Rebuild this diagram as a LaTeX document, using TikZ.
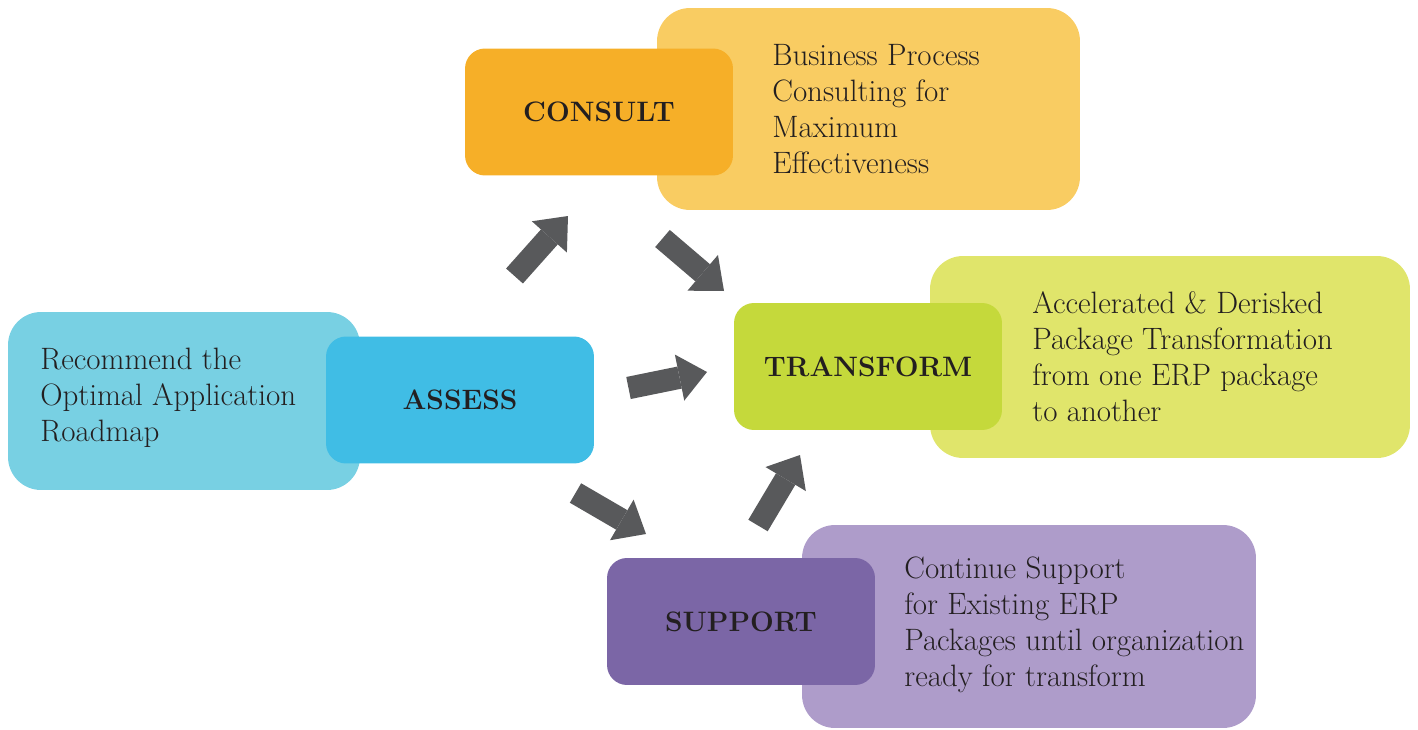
\documentclass[tikz,border=0pt]{standalone}
\usepackage{fontspec}
\usepackage{tikz}
\usetikzlibrary{arrows.meta}
\definecolor{consultdark}{HTML}{F6AF28}
\definecolor{consultlight}{HTML}{F9CC62}
\definecolor{assessdark}{HTML}{40BDE5}
\definecolor{assesslight}{HTML}{78D0E3}
\definecolor{transformdark}{HTML}{C5D93B}
\definecolor{transformlight}{HTML}{E0E56B}
\definecolor{supportdark}{HTML}{7B66A6}
\definecolor{supportlight}{HTML}{AE9CCA}
\definecolor{arrowgray}{HTML}{58595B}
\definecolor{inkcol}{HTML}{231F20}

\begin{document}
\begin{tikzpicture}[
    x=0.02cm, y=-0.02cm,
    big box/.style={rounded corners=0.66cm, inner sep=0pt, minimum height=4.04cm},
    small box/.style={rounded corners=0.4cm, inner sep=0pt, minimum width=5.36cm, minimum height=2.54cm,
        text=inkcol, font=\fontsize{16}{19}\selectfont\bfseries},
    desc/.style={anchor=west, align=left, inner sep=0pt, text=inkcol, font=\fontsize{17.6}{20.5}\selectfont},
    block arrow/.style={draw=arrowgray, line width=0.45cm,
        -{Triangle[width=0.94cm, length=0.56cm, line width=0pt]}},
    every node/.style={color=black}
    ]
    \useasboundingbox (0,0) rectangle (1418,730);

    % background boxes
    \node[big box, fill=consultlight, minimum width=8.46cm] (consultbg) at (868.5,109) {};
    \node[big box, fill=assesslight, minimum width=7.04cm, minimum height=3.56cm] (assessbg) at (184,401) {};
    \node[big box, fill=transformlight, minimum width=9.6cm] (transformbg) at (1170,357) {};
    \node[big box, fill=supportlight, minimum width=9.08cm, minimum height=4.06cm] (supportbg) at (1029,626.5) {};

    % labels
    \node[small box, fill=consultdark] (consult) at (599,112) {CONSULT};
    \node[small box, fill=assessdark] (assess) at (460,400) {ASSESS};
    \node[small box, fill=transformdark] (transform) at (868,366.5) {TRANSFORM};
    \node[small box, fill=supportdark] (support) at (741,621.5) {SUPPORT};

    % descriptions
    \node[desc] (consulttxt) at (772,109) {Business Process\\Consulting for\\Maximum\\Effectiveness};
    \node[desc] (assesstxt) at (40,398) {Recommend the\\Optimal Application\\Roadmap};
    \node[desc] (transformtxt) at (1032,357) {Accelerated \& Derisked\\Package Transformation\\from one ERP package\\to another};
    \node[desc] (supporttxt) at (904,625) {Continue Support\\for Existing ERP\\Packages until organization\\ready for transform};

    % arrows
    \coordinate (ac0) at (514.5,276);
    \coordinate (ac1) at (568,216);
    \coordinate (ct0) at (662.5,238.5);
    \coordinate (ct1) at (724,291);
    \coordinate (at0) at (628.5,388);
    \coordinate (at1) at (707,372);
    \coordinate (as0) at (575.5,493);
    \coordinate (as1) at (646,534);
    \coordinate (st0) at (758,525.5);
    \coordinate (st1) at (800,455);
    \draw[block arrow] (ac0) -- (ac1);
    \draw[block arrow] (ct0) -- (ct1);
    \draw[block arrow] (at0) -- (at1);
    \draw[block arrow] (as0) -- (as1);
    \draw[block arrow] (st0) -- (st1);
\end{tikzpicture}
\end{document}
